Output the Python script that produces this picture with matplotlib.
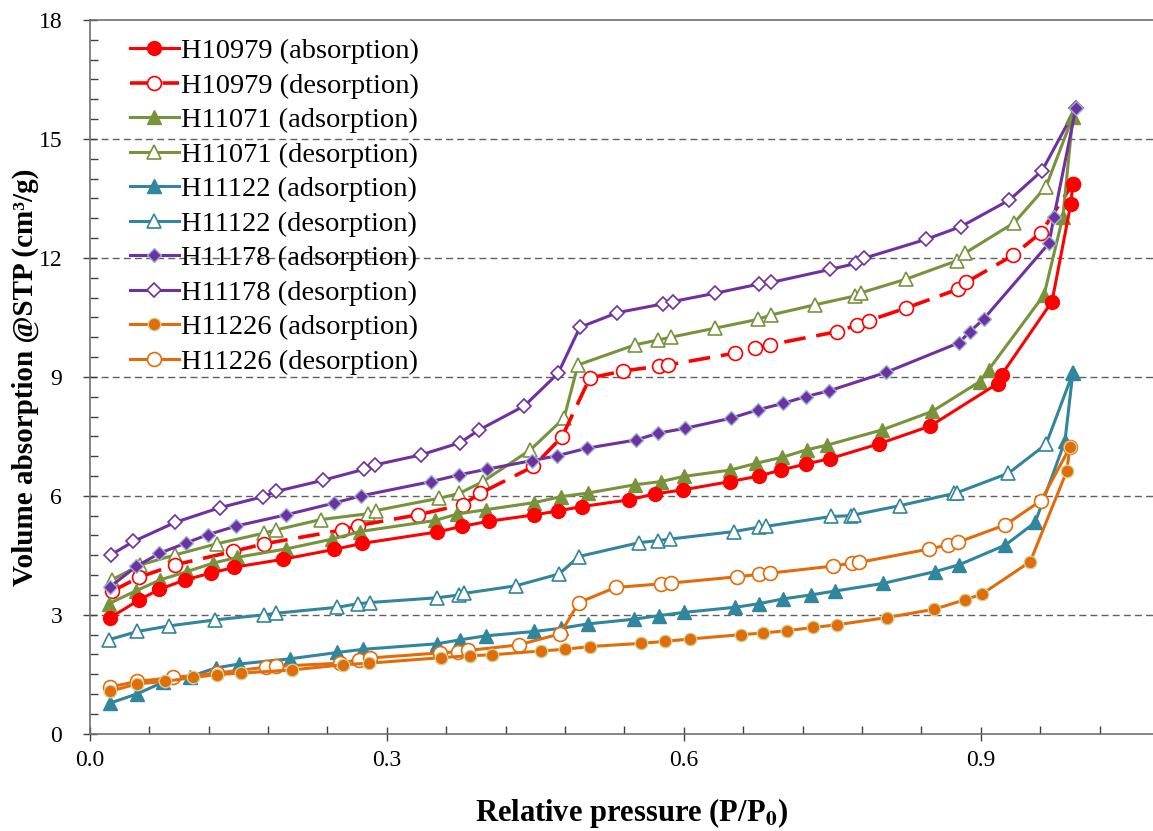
import matplotlib.pyplot as plt
from matplotlib.ticker import MultipleLocator, FormatStrFormatter

plt.rcParams['font.family'] = ['Liberation Serif', 'DejaVu Serif']
plt.rcParams['mathtext.fontset'] = 'stix'

# H10979
h10979_ads_x = [0.020, 0.050, 0.070, 0.096, 0.122, 0.146, 0.195, 0.247, 0.275, 0.351, 0.376, 0.403, 0.449, 0.473, 0.497,
                0.545, 0.571, 0.599, 0.647, 0.676, 0.698, 0.723, 0.748, 0.797, 0.849, 0.917, 0.921, 0.972, 0.991, 0.993]
h10979_ads_y = [2.92, 3.38, 3.64, 3.88, 4.05, 4.20, 4.40, 4.65, 4.80, 5.09, 5.23, 5.36, 5.52, 5.62, 5.73,
                5.90, 6.05, 6.15, 6.36, 6.50, 6.65, 6.80, 6.94, 7.31, 7.76, 8.83, 9.05, 10.90, 13.36, 13.87]
h10979_des_x = [0.022, 0.050, 0.086, 0.145, 0.176, 0.255, 0.271, 0.331, 0.377, 0.394, 0.448, 0.477, 0.505, 0.539,
                0.575, 0.584, 0.652, 0.672, 0.687, 0.755, 0.775, 0.787, 0.824, 0.877, 0.885, 0.933, 0.961, 0.993]
h10979_des_y = [3.59, 3.95, 4.26, 4.60, 4.79, 5.14, 5.25, 5.52, 5.78, 6.06, 6.74, 7.49, 8.97, 9.15,
                9.27, 9.30, 9.60, 9.72, 9.81, 10.14, 10.31, 10.42, 10.73, 11.21, 11.38, 12.07, 12.64, 13.87]

# H11071
h11071_ads_x = [0.019, 0.047, 0.071, 0.098, 0.124, 0.149, 0.198, 0.245, 0.273, 0.349, 0.371, 0.400, 0.449, 0.476, 0.503,
                0.551, 0.577, 0.600, 0.647, 0.673, 0.699, 0.724, 0.745, 0.800, 0.851, 0.899, 0.908, 0.964, 0.983, 0.993]
h11071_ads_y = [3.28, 3.61, 3.88, 4.09, 4.30, 4.45, 4.66, 4.91, 5.10, 5.38, 5.54, 5.65, 5.83, 5.98, 6.07,
                6.28, 6.36, 6.49, 6.65, 6.82, 6.97, 7.16, 7.28, 7.66, 8.13, 8.88, 9.18, 11.07, 13.04, 15.56]
h11071_des_x = [0.022, 0.051, 0.086, 0.128, 0.176, 0.188, 0.233, 0.281, 0.289, 0.353, 0.373, 0.397, 0.445, 0.479, 0.493,
                0.551, 0.574, 0.587, 0.632, 0.675, 0.688, 0.733, 0.773, 0.779, 0.824, 0.876, 0.884, 0.934, 0.966, 0.993]
h11071_des_y = [3.88, 4.26, 4.51, 4.79, 5.06, 5.14, 5.40, 5.55, 5.63, 5.94, 6.06, 6.36, 7.16, 7.96, 9.30,
                9.81, 9.93, 10.00, 10.23, 10.45, 10.56, 10.82, 11.04, 11.12, 11.46, 11.93, 12.12, 12.89, 13.80, 15.56]

# H11122
h11122_ads_x = [0.020, 0.048, 0.074, 0.101, 0.127, 0.151, 0.202, 0.250, 0.276, 0.351, 0.374, 0.400, 0.449, 0.476, 0.503,
                0.550, 0.575, 0.600, 0.652, 0.676, 0.700, 0.728, 0.753, 0.801, 0.854, 0.878, 0.925, 0.955, 0.985, 0.993]
h11122_ads_y = [0.77, 1.01, 1.30, 1.44, 1.66, 1.76, 1.89, 2.05, 2.13, 2.27, 2.37, 2.47, 2.58, 2.66, 2.77,
                2.89, 2.98, 3.06, 3.19, 3.28, 3.40, 3.50, 3.60, 3.79, 4.09, 4.26, 4.76, 5.33, 7.37, 9.09]
h11122_des_x = [0.019, 0.048, 0.080, 0.126, 0.176, 0.188, 0.250, 0.271, 0.283, 0.351, 0.373, 0.378, 0.430, 0.474, 0.494,
                0.555, 0.574, 0.586, 0.651, 0.676, 0.683, 0.749, 0.769, 0.772, 0.818, 0.873, 0.876, 0.928, 0.966, 0.993]
h11122_des_y = [2.37, 2.58, 2.72, 2.87, 3.00, 3.04, 3.19, 3.28, 3.31, 3.43, 3.50, 3.54, 3.73, 4.03, 4.47,
                4.82, 4.87, 4.91, 5.10, 5.21, 5.23, 5.48, 5.50, 5.52, 5.75, 6.06, 6.08, 6.57, 7.30, 9.09]

# H11178
h11178_ads_x = [0.020, 0.047, 0.070, 0.097, 0.119, 0.148, 0.198, 0.247, 0.274, 0.345, 0.373, 0.401, 0.447, 0.472, 0.502,
                0.552, 0.574, 0.601, 0.648, 0.675, 0.700, 0.723, 0.747, 0.804, 0.878, 0.889, 0.903, 0.969, 0.974, 0.996]
h11178_ads_y = [3.70, 4.22, 4.55, 4.81, 5.02, 5.24, 5.52, 5.82, 6.00, 6.36, 6.53, 6.67, 6.89, 7.01, 7.20,
                7.41, 7.58, 7.70, 7.96, 8.17, 8.33, 8.50, 8.65, 9.11, 9.86, 10.14, 10.46, 12.37, 13.04, 15.77]
h11178_des_x = [0.021, 0.044, 0.086, 0.131, 0.175, 0.188, 0.235, 0.277, 0.288, 0.334, 0.374, 0.393, 0.439, 0.473, 0.495,
                0.533, 0.579, 0.589, 0.632, 0.676, 0.688, 0.748, 0.774, 0.782, 0.845, 0.880, 0.929, 0.962, 0.996]
h11178_des_y = [4.51, 4.85, 5.33, 5.70, 5.98, 6.11, 6.39, 6.67, 6.78, 7.03, 7.34, 7.66, 8.27, 9.09, 10.25,
                10.62, 10.84, 10.90, 11.11, 11.34, 11.38, 11.71, 11.86, 11.99, 12.47, 12.79, 13.46, 14.20, 15.77]

# H11226
h11226_ads_x = [0.020, 0.048, 0.076, 0.104, 0.128, 0.153, 0.204, 0.256, 0.282, 0.355, 0.384, 0.406, 0.456, 0.480, 0.505,
                0.557, 0.581, 0.606, 0.658, 0.680, 0.704, 0.731, 0.755, 0.805, 0.853, 0.884, 0.901, 0.950, 0.987, 0.990]
h11226_ads_y = [1.07, 1.26, 1.32, 1.42, 1.49, 1.53, 1.61, 1.74, 1.78, 1.92, 1.97, 1.99, 2.09, 2.13, 2.20,
                2.28, 2.33, 2.39, 2.50, 2.54, 2.60, 2.68, 2.75, 2.93, 3.14, 3.38, 3.52, 4.34, 6.63, 7.22]
h11226_des_x = [0.020, 0.048, 0.084, 0.128, 0.178, 0.188, 0.253, 0.272, 0.283, 0.354, 0.372, 0.382, 0.433, 0.475, 0.494,
                0.531, 0.577, 0.587, 0.654, 0.676, 0.687, 0.751, 0.770, 0.777, 0.848, 0.867, 0.877, 0.925, 0.961, 0.990]
h11226_des_y = [1.18, 1.32, 1.42, 1.53, 1.68, 1.70, 1.78, 1.87, 1.91, 2.04, 2.07, 2.10, 2.24, 2.52, 3.31,
                3.69, 3.78, 3.80, 3.96, 4.02, 4.05, 4.23, 4.30, 4.32, 4.66, 4.76, 4.83, 5.27, 5.88, 7.22]

red = '#ff0000'
green = '#77933c'
teal = '#31859c'
purple = '#7030a0'
orange = '#e36c09'

fig = plt.figure(figsize=(11.53, 8.31), dpi=100)
ax = fig.add_axes([0.078, 0.117, 0.94, 0.859])

lw = 2.2
ax.plot(h10979_ads_x, h10979_ads_y, '-', color=red, lw=lw, marker='o', ms=10, mfc=red, mec=red,
        label='H10979 (absorption)', zorder=5)
ax.plot(h10979_des_x, h10979_des_y, color=red, lw=2.6, linestyle=(0, (6, 3)), marker='o', ms=10, mfc='white',
        mec=red, mew=1.2, label='H10979 (desorption)', zorder=4)
ax.plot(h11071_ads_x, h11071_ads_y, '-', color=green, lw=lw, marker='^', ms=10, mfc=green, mec=green,
        label='H11071 (adsorption)', zorder=4)
ax.plot(h11071_des_x, h11071_des_y, '-', color=green, lw=lw, marker='^', ms=10, mfc='white', mec=green, mew=1.2,
        label='H11071 (desorption)', zorder=3)
ax.plot(h11122_ads_x, h11122_ads_y, '-', color=teal, lw=lw, marker='^', ms=10, mfc=teal, mec=teal,
        label='H11122 (adsorption)', zorder=4)
ax.plot(h11122_des_x, h11122_des_y, '-', color=teal, lw=lw, marker='^', ms=10, mfc='white', mec=teal, mew=1.2,
        label='H11122 (desorption)', zorder=3)
ax.plot(h11178_ads_x, h11178_ads_y, '-', color=purple, lw=lw, marker='D', ms=7.5, mfc=purple, mec='#95b3d7',
        mew=1.0, label='H11178 (adsorption)', zorder=4)
ax.plot(h11178_des_x, h11178_des_y, '-', color=purple, lw=lw, marker='D', ms=7.5, mfc='white', mec=purple,
        mew=1.2, label='H11178 (desorption)', zorder=3)
ax.plot(h11226_ads_x, h11226_ads_y, '-', color=orange, lw=lw, marker='o', ms=9, mfc=orange, mec='#c3d69b',
        mew=1.0, label='H11226 (adsorption)', zorder=5)
ax.plot(h11226_des_x, h11226_des_y, '-', color=orange, lw=lw, marker='o', ms=10, mfc='white', mec=orange,
        mew=1.2, label='H11226 (desorption)', zorder=4)

ax.set_xlim(0, 1.095)
ax.set_ylim(0, 18)
ax.xaxis.set_major_locator(MultipleLocator(0.3))
ax.xaxis.set_minor_locator(MultipleLocator(0.06))
ax.xaxis.set_major_formatter(FormatStrFormatter('%.1f'))
ax.yaxis.set_major_locator(MultipleLocator(3))
ax.yaxis.set_minor_locator(MultipleLocator(0.5))
ax.tick_params(which='major', direction='inout', length=10, width=1, labelsize=17, color='#404040')
ax.tick_params(which='minor', direction='in', length=6, width=1, color='#404040')
ax.tick_params(axis='x', pad=7)
ax.tick_params(axis='y', pad=15)

for v in [3, 6, 9, 12, 15]:
    ax.axhline(v, color='#606060', lw=1.0, linestyle=(0, (5, 3)), zorder=1)

ax.spines['right'].set_visible(False)
for s in ['left', 'bottom', 'top']:
    ax.spines[s].set_color('#707070')
    ax.spines[s].set_linewidth(1.2)

ax.set_xlabel('Relative pressure (P/P$_\\mathbf{0}$)', fontsize=22, fontweight='bold', labelpad=18)
ax.set_ylabel('Volume absorption @STP (cm³/g)', fontsize=21, fontweight='bold', labelpad=0)

ax.legend(loc='upper left', bbox_to_anchor=(0.02, 1.0), frameon=False, fontsize=20.5, handlelength=1.7,
          handletextpad=0.1, labelspacing=0.3, borderaxespad=0.25)

fig.savefig('out.png', dpi=100)
